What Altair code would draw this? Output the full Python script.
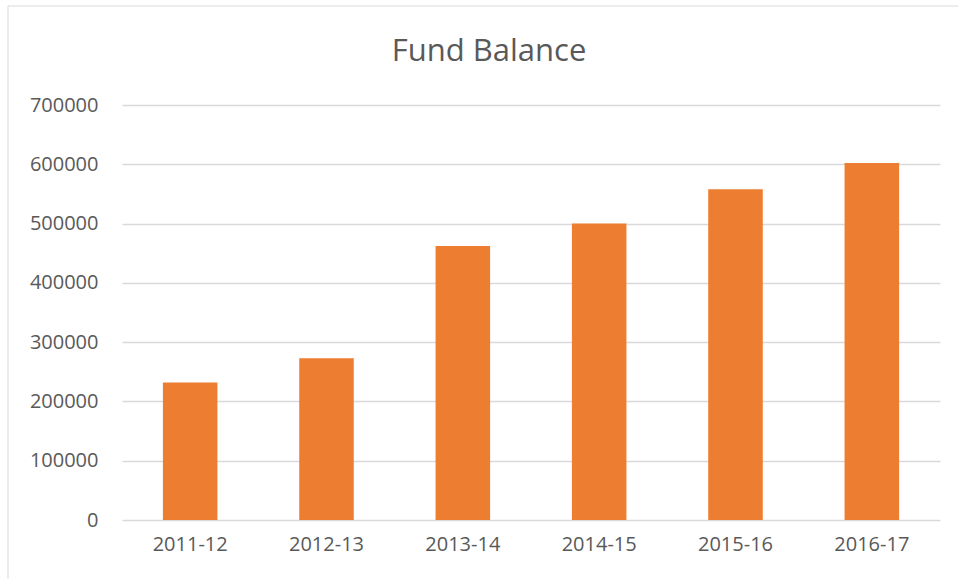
import altair as alt
import pandas as pd

years = ["2011-12", "2012-13", "2013-14", "2014-15", "2015-16", "2016-17"]
balance = [232000, 273000, 462000, 500000, 558000, 602000]
y_ticks = [0, 100000, 200000, 300000, 400000, 500000, 600000, 700000]
title_text = "Fund Balance"

df = pd.DataFrame({"year": years, "balance": balance})

FONT = "Open Sans"
TXT = "#595959"
GRID = "#D9D9D9"

bars = alt.Chart(df).mark_bar(color="#ED7D31").encode(
    x=alt.X("year:N", sort=years, title=None,
            scale=alt.Scale(paddingInner=0.6, paddingOuter=0.3),
            axis=alt.Axis(labelAngle=0, labelFontSize=20, labelColor=TXT, labelFont=FONT,
                          domain=False, ticks=False, labelPadding=14)),
    y=alt.Y("balance:Q", title=None,
            scale=alt.Scale(domain=[0, 700000], nice=False),
            axis=alt.Axis(values=y_ticks, format="d", labelFontSize=20, labelColor=TXT,
                          labelFont=FONT, domain=False, ticks=False, labelPadding=24,
                          gridColor=GRID, gridWidth=1.5)),
)

one = alt.Data(values=[{"t": title_text}])

title = alt.Chart(one).mark_text(font=FONT, fontSize=31, color=TXT, align="center",
                                 baseline="alphabetic").encode(
    text="t:N", x=alt.value(367), y=alt.value(-44))

border_left = alt.Chart(one).mark_rule(color=GRID, strokeWidth=1).encode(
    x=alt.value(-114), y=alt.value(-99), y2=alt.value(500))
border_top = alt.Chart(one).mark_rule(color=GRID, strokeWidth=1).encode(
    x=alt.value(-114), x2=alt.value(900), y=alt.value(-99))

chart = alt.layer(bars, title, border_left, border_top).properties(
    width=818, height=415,
    autosize=alt.AutoSizeParams(type="none"),
    padding={"left": 122, "top": 105, "right": 18, "bottom": 59},
).configure_view(stroke=None)

chart.save("out.html", embed_options={"renderer": "svg", "actions": False})
